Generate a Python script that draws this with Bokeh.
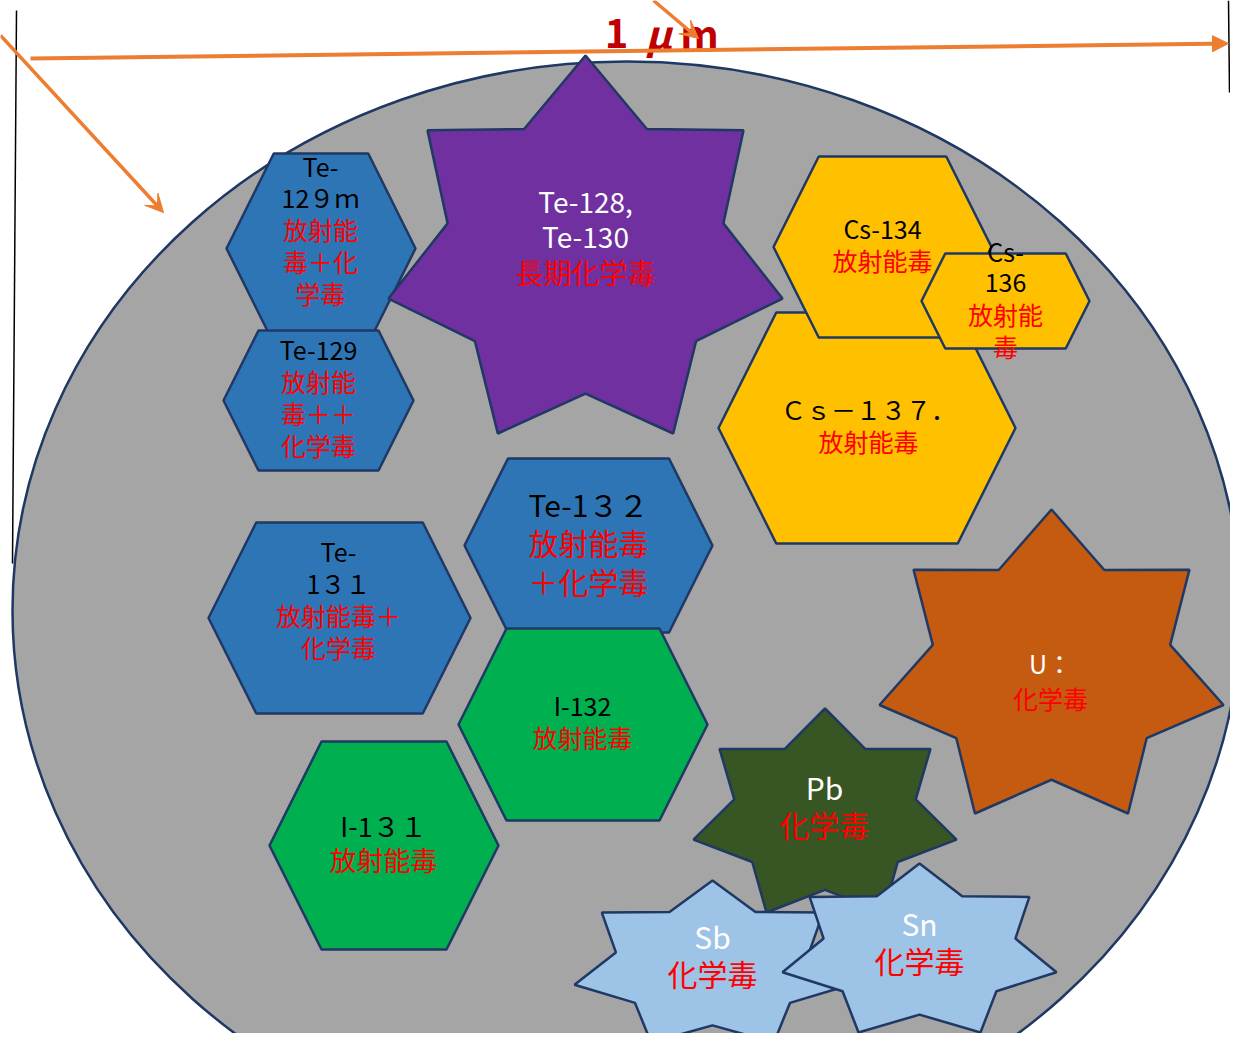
import numpy as np
from bokeh.plotting import figure
from bokeh.models import ColumnDataSource, Range1d, Arrow, NormalHead, VeeHead
from bokeh.core.properties import value
from bokeh.embed import file_html
from bokeh.resources import INLINE

# ---------------- data ----------------
names = ["Te-129m", "Te-129", "Te-128/Te-130", "Cs-137", "Cs-134", "Cs-136",
         "Te-131", "Te-132", "I-132", "I-131", "U", "Pb", "Sb", "Sn"]
shape_kind = ["hex", "hex", "star", "hex", "hex", "hex",
              "hex", "hex", "hex", "hex", "star", "star", "star", "star"]
fill_colors = ["#2E75B6", "#2E75B6", "#7030A0", "#FFC000", "#FFC000", "#FFC000",
               "#2E75B6", "#2E75B6", "#00B050", "#00B050", "#C55A11", "#375623",
               "#9DC3E6", "#9DC3E6"]
name_lines = [["Te-", "12９ｍ"], ["Te-129"], ["Te-128,", "Te-130"], ["Ｃｓ－１３７．"],
              ["Cs-134"], ["Cs-", "136"], ["Te-", "1３１"], ["Te-1３２"], ["I-132"],
              ["I-1３１"], ["U："], ["Pb"], ["Sb"], ["Sn"]]
hazard_lines = [["放射能", "毒＋化", "学毒"], ["放射能", "毒＋＋", "化学毒"], ["長期化学毒"],
                ["放射能毒"], ["放射能毒"], ["放射能", "毒"], ["放射能毒＋", "化学毒"],
                ["放射能毒", "＋化学毒"], ["放射能毒"], ["放射能毒"], ["化学毒"],
                ["化学毒"], ["化学毒"], ["化学毒"]]
name_colors = ["#000000", "#000000", "#FFFFFF", "#000000", "#000000", "#000000",
               "#000000", "#000000", "#000000", "#000000", "#FFFFFF", "#FFFFFF",
               "#FFFFFF", "#FFFFFF"]
scale_label = ["1", "μ", "m"]

# ---------------- layout (pixel space) ----------------
boxes = [(226, 415, 153, 343), (223, 413, 330, 470), (388, 782, 55, 433),
         (718, 1015, 312, 543), (773, 991, 156, 337), (921, 1089, 253, 348),
         (208, 470, 522, 713), (464, 712, 458, 632), (458, 707, 628, 820),
         (269, 498, 741, 949), (879, 1223, 509, 813), (693, 956, 708, 912),
         (574, 850, 880, 1042), (782, 1056, 863, 1032)]
star_inner = [0, 0, 0.70, 0, 0, 0, 0, 0, 0, 0, 0.69, 0.69, 0.70, 0.70]
text_pos = [(320, 165, 31.8, 25), (318, 348, 32, 25), (585, 200, 35.5, 28),
            (868, 408, 32, 25), (882, 227, 32, 25), (1005, 250, 31.7, 25),
            (338, 550, 32, 25), (588, 503, 38.5, 30), (582, 704, 32, 25),
            (383, 825, 34, 27), (1050, 662, 35, 25), (824, 786, 37, 30),
            (712, 935, 37, 30), (919, 922, 37, 30)]

FONT = "Noto Sans CJK JP"
NAVY = "#1F3864"
ORANGE = "#ED7D31"


def hex_poly(x0, x1, y0, y1):
    ins = 0.25 * min(x1 - x0, y1 - y0)
    yc = (y0 + y1) / 2
    return ([x0, x0 + ins, x1 - ins, x1, x1 - ins, x0 + ins],
            [yc, y0, y0, yc, y1, y1])


def star_poly(x0, x1, y0, y1, r):
    n = 7
    ux, uy = [], []
    for i in range(n):
        a = np.deg2rad(90 - i * 360 / n)
        ux.append(np.cos(a)); uy.append(np.sin(a))
        b = np.deg2rad(90 - (i + 0.5) * 360 / n)
        ux.append(r * np.cos(b)); uy.append(r * np.sin(b))
    ux = np.array(ux); uy = np.array(uy)
    sx = (x1 - x0) / (ux.max() - ux.min())
    sy = (y1 - y0) / (uy.max() - uy.min())
    cx = (x0 + x1) / 2
    cy = y0 + sy * uy.max()
    return list(cx + sx * ux), list(cy - sy * uy)


xs_all, ys_all = [], []
for kind, b, r in zip(shape_kind, boxes, star_inner):
    if kind == "hex":
        px, py = hex_poly(*b)
    else:
        px, py = star_poly(*b, r)
    xs_all.append(px); ys_all.append(py)

p = figure(width=1230, height=1033, output_backend="svg", toolbar_location=None,
           x_range=Range1d(0, 1230), y_range=Range1d(1033, 0),
           x_axis_type=None, y_axis_type=None, min_border=0)
p.grid.visible = False
p.outline_line_color = None
p.background_fill_color = "white"

# outer particle
p.ellipse(x=[626], y=[610], width=[1228], height=[1098],
          fill_color="#A5A5A5", line_color=NAVY, line_width=2.5)

# vertical guide lines
p.line(x=[16, 12], y=[10, 563], line_color="#000000", line_width=1.5)
p.line(x=[1228, 1229], y=[0, 92], line_color="#000000", line_width=1.5)

# shapes
p.patches(xs=xs_all, ys=ys_all, fill_color=fill_colors, line_color=NAVY, line_width=2.5)

# texts
tx, ty, tt, tc, tf = [], [], [], [], []
for nl, hl, nc, (cx, y0, dy, fs) in zip(name_lines, hazard_lines, name_colors, text_pos):
    k = 0
    for s in nl:
        tx.append(cx); ty.append(y0 + k * dy); tt.append(s); tc.append(nc); tf.append(f"{fs}px"); k += 1
    for s in hl:
        tx.append(cx); ty.append(y0 + k * dy); tt.append(s); tc.append("#FF0000"); tf.append(f"{fs}px"); k += 1
src = ColumnDataSource(dict(x=tx, y=ty, text=tt, color=tc, fs=tf))
p.text(x="x", y="y", text="text", source=src, text_color="color", text_font_size="fs",
       text_align="center", text_baseline="middle", text_font=value(FONT))

# "1 μm" label
p.text(x=[616], y=[32], text=[scale_label[0]], text_color="#C00000", text_font_size="40px",
       text_font_style="bold", text_align="center", text_baseline="middle", text_font=value(FONT))
p.text(x=[658], y=[32], text=[scale_label[1]], text_color="#C00000", text_font_size="40px",
       text_font_style="bold italic", text_align="center", text_baseline="middle", text_font=value(FONT))
p.text(x=[699], y=[32], text=[scale_label[2]], text_color="#C00000", text_font_size="40px",
       text_font_style="bold", text_align="center", text_baseline="middle", text_font=value(FONT))

# arrows
p.add_layout(Arrow(end=NormalHead(size=16, fill_color=ORANGE, line_color=ORANGE),
                   x_start=30, y_start=58, x_end=1228, y_end=43,
                   line_color=ORANGE, line_width=4))
p.add_layout(Arrow(end=VeeHead(size=18, fill_color=ORANGE, line_color=ORANGE),
                   x_start=0, y_start=35, x_end=163, y_end=212,
                   line_color=ORANGE, line_width=3.5))
p.add_layout(Arrow(end=VeeHead(size=18, fill_color=ORANGE, line_color=ORANGE),
                   x_start=653, y_start=0, x_end=698, y_end=38,
                   line_color=ORANGE, line_width=3.5))

open("out.html", "w").write(file_html(p, INLINE))
